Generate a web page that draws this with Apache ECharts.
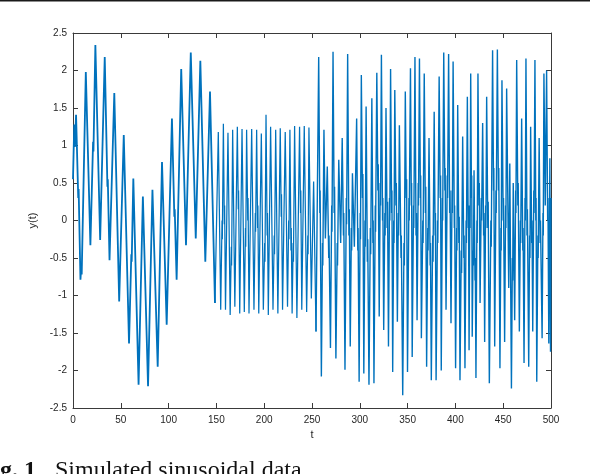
<!DOCTYPE html>
<html>
<head>
<meta charset="utf-8">
<script src="https://cdn.jsdelivr.net/npm/echarts@6/dist/echarts.min.js"></script>
<style>
html,body{margin:0;padding:0;background:#fff;}
#chart{width:590px;height:474px;}
</style>
</head>
<body>
<div id="chart"></div>
<script>
// ---- data: [t, y(t)] turning points of the trace ----
// segment 1 (t 0-150): slow wave carrying a ~10-unit oscillation
const seg1Pts = [[0,0.55],[1.3,1.28],[2.0,0.98],[3.2,1.41],[5.5,0.30],[5.9,0.42],[7.8,-0.79],[8.6,-0.62],[9.1,-0.72],[13.4,1.98],[18.2,-0.33],[21.0,1.05],[21.4,0.92],[23.4,2.34],[28.4,-0.26],[33.2,2.18],[36.0,0.45],[36.4,0.55],[38.2,-0.53],[43.2,1.70],[48.3,-1.08],[53.1,1.14],[58.6,-1.64],[61.0,-0.45],[61.4,-0.55],[63.1,0.56],[68.6,-2.19],[73.1,0.32],[78.5,-2.21],[83.1,0.41],[88.6,-1.95],[93.1,0.78],[98.0,-1.39],[103.5,1.36],[106.0,0.05],[106.4,0.15],[108.4,-0.79],[113.2,2.02],[118.2,-0.33],[123.2,2.24],[128.4,-0.24],[133.2,2.13],[138.4,-0.55],[143.3,1.72],[148.5,-1.10]];

// segment 2 (t 150-255): steady ~5-unit oscillation
const seg2Pts = [[152.0,1.18],[154.5,-1.19],[155.9,0.00],[156.2,-0.25],[157.3,1.29],[158.3,-0.05],[158.6,0.20],[159.5,-1.19],[162.1,1.17],[164.4,-1.26],[165.6,-0.35],[165.9,-0.60],[167.0,1.21],[169.3,-1.15],[171.9,1.25],[172.9,0.15],[173.2,0.40],[174.4,-1.24],[176.8,1.22],[179.2,-1.22],[180.4,-0.10],[180.7,-0.35],[181.6,1.21],[182.8,0.00],[183.1,0.30],[184.1,-1.24],[186.9,1.22],[189.3,-1.19],[190.7,0.10],[191.0,-0.15],[192.1,1.21],[193.1,-0.10],[193.4,0.20],[194.3,-1.24],[197.0,1.16],[199.1,-1.19],[200.5,-0.30],[200.8,-0.55],[201.9,1.41],[203.1,-0.20],[203.4,0.10],[204.3,-1.26],[206.7,1.25],[209.2,-1.19],[210.5,-0.20],[210.8,-0.45],[212.0,1.21],[214.3,-1.24],[216.8,1.23],[217.8,0.05],[218.1,0.35],[219.2,-1.19],[222.0,1.18],[224.4,-1.15],[225.6,0.00],[225.9,-0.25],[226.9,1.21],[228.0,-0.40],[228.3,-0.10],[229.2,-1.24],[230.3,-0.30],[230.6,-0.55],[231.8,1.26],[234.2,-1.30],[237.0,1.25],[238.0,0.10],[238.3,0.40],[239.3,-1.19],[241.9,1.26],[244.4,-1.22],[245.6,-0.20],[245.9,-0.45],[246.8,1.24],[249.3,-1.04],[251.7,0.52],[254.2,-1.48]];

// segment 3 (t 255-500): mixed oscillations with beating
const seg3Pts = [[257.0,2.18],[258.2,0.10],[258.5,0.40],[259.8,-2.08],[261.0,-0.30],[261.3,-0.60],[262.5,1.21],[264.0,-0.24],[266.0,0.72],[267.5,-0.50],[267.8,-0.20],[269.3,-1.70],[270.6,0.20],[270.9,-0.15],[272.0,2.25],[273.2,0.10],[273.6,0.45],[275.0,-1.84],[276.4,-0.30],[276.7,-0.60],[278.0,0.81],[280.0,-0.30],[281.6,1.10],[282.9,-0.20],[283.2,0.10],[284.5,-1.99],[285.9,0.30],[286.2,-0.05],[287.3,2.22],[288.6,-0.20],[289.0,0.15],[290.0,-1.68],[291.2,-0.10],[291.5,-0.40],[292.3,0.63],[294.3,-0.35],[296.7,1.36],[297.9,-0.40],[298.2,-0.10],[299.3,-2.15],[300.4,0.10],[300.7,-0.25],[301.6,1.94],[302.8,0.30],[303.2,0.62],[304.2,-2.04],[305.4,0.00],[305.7,-0.35],[306.6,1.52],[307.9,-0.55],[308.3,-0.25],[309.6,-2.19],[311.0,-0.10],[311.4,-0.45],[312.6,1.63],[313.7,-0.30],[314.0,0.00],[314.8,-2.17],[316.2,0.20],[316.5,-0.15],[317.8,1.97],[318.9,0.40],[319.3,0.75],[320.3,-1.28],[321.4,0.50],[321.7,0.20],[322.6,2.21],[323.8,0.00],[324.1,0.30],[325.0,-1.46],[326.2,0.10],[326.5,-0.20],[327.4,1.50],[328.6,-0.10],[329.0,0.25],[330.0,-1.68],[331.1,0.30],[331.4,0.00],[332.2,2.02],[333.3,0.10],[333.6,0.40],[334.4,-2.02],[335.5,0.00],[335.8,-0.30],[336.6,1.74],[337.8,0.20],[338.2,0.50],[339.3,-1.35],[340.3,0.10],[340.6,-0.20],[341.4,1.27],[343.1,-0.50],[343.4,-0.20],[344.9,-2.33],[346.2,-0.30],[346.6,-0.60],[347.6,1.72],[348.6,0.30],[349.0,0.55],[349.9,-2.02],[351.4,0.30],[351.7,0.00],[353.0,2.03],[353.9,0.20],[354.2,0.50],[354.8,-1.82],[356.2,0.20],[356.5,-0.10],[357.7,2.18],[358.8,-0.20],[359.2,0.10],[359.9,-1.33],[361.1,0.50],[361.4,0.20],[362.4,2.16],[363.4,0.30],[363.7,0.60],[364.4,-1.57],[365.9,0.00],[366.2,-0.30],[367.4,1.96],[368.6,0.10],[369.0,0.45],[369.9,-1.95],[371.1,-0.10],[371.4,-0.40],[372.4,1.10],[373.6,-0.60],[373.9,-0.30],[374.8,-2.13],[376.2,-0.20],[376.6,-0.55],[377.8,1.45],[378.8,-0.20],[379.1,0.10],[379.8,-2.13],[381.3,0.00],[381.6,-0.30],[383.0,1.92],[384.1,0.30],[384.5,0.60],[385.2,-2.00],[386.4,0.30],[386.7,0.00],[387.8,2.24],[389.0,0.40],[389.3,0.70],[390.2,-1.19],[391.5,0.60],[391.8,0.30],[392.9,2.22],[394.0,0.10],[394.4,0.40],[395.4,-1.37],[396.5,0.40],[396.8,0.10],[397.6,2.12],[398.9,-0.10],[399.2,0.20],[400.2,-1.97],[401.3,-0.10],[401.6,-0.40],[402.4,1.54],[403.6,-0.30],[404.0,0.05],[404.8,-2.13],[406.1,-0.40],[406.5,-0.70],[407.6,1.12],[408.8,-0.50],[409.1,-0.20],[410.0,-1.97],[411.2,0.00],[411.5,-0.30],[412.5,1.65],[413.4,-0.10],[413.7,0.20],[414.3,-1.73],[415.1,0.20],[415.4,-0.10],[416.0,1.96],[416.8,0.30],[417.1,0.60],[417.6,-1.55],[418.5,-0.40],[418.8,-0.60],[419.5,0.67],[420.5,-0.80],[420.8,-0.50],[421.5,-2.10],[422.5,0.00],[422.8,-0.30],[423.6,1.96],[424.6,0.20],[425.0,0.50],[425.8,-1.10],[427.1,0.30],[427.4,0.00],[428.5,1.30],[429.5,-0.20],[429.8,0.10],[430.6,-1.62],[431.6,0.20],[431.9,-0.10],[432.7,1.65],[433.9,-0.10],[434.3,0.25],[435.5,-2.17],[437.1,0.00],[437.5,-0.35],[438.9,2.27],[439.9,0.40],[440.2,0.70],[441.1,-1.68],[442.4,0.40],[442.7,0.10],[443.9,2.28],[445.0,0.40],[445.4,0.70],[446.6,-1.97],[447.6,-0.10],[447.9,-0.40],[448.7,1.87],[450.0,0.00],[450.3,0.30],[451.5,-1.62],[452.5,0.20],[452.8,-0.10],[453.6,1.76],[455.8,-0.90],[456.9,0.76],[458.6,-2.24],[459.6,-0.50],[459.9,-0.80],[460.5,0.50],[462.0,-1.33],[463.0,0.40],[463.3,0.10],[464.1,2.14],[465.3,0.20],[465.7,0.50],[466.9,-1.48],[468.0,0.00],[468.3,-0.30],[469.3,1.36],[470.5,-0.40],[470.8,-0.10],[471.8,-1.90],[472.8,0.30],[473.1,0.00],[473.8,2.16],[474.9,-0.20],[475.3,0.15],[476.7,-1.95],[477.6,-0.20],[478.0,-0.50],[478.7,1.25],[479.8,-0.30],[480.1,0.00],[480.9,-1.48],[482.0,0.40],[482.3,0.10],[483.2,2.14],[484.1,0.00],[484.4,0.30],[485.1,-2.15],[486.3,-0.20],[486.6,-0.50],[487.6,1.10],[488.6,-0.30],[489.0,0.00],[490.7,-1.57],[491.6,0.10],[491.9,-0.20],[492.6,1.96],[494.0,0.20],[495.4,2.00],[496.5,0.00],[496.8,0.30],[497.7,-1.64],[498.8,0.83],[499.5,-1.75],[500.0,0.30]];

const xTicks = [0, 500, 50];      // min, max, step
const yTicks = [-2.5, 2.5, 0.5];  // min, max, step
const xName = 't';
const yName = 'y(t)';
const captionBold = 'Fig. 1';
const captionText = 'Simulated sinusoidal data';

// ---- series data (each segment joined to the previous one's last point) ----
const s1 = seg1Pts;
const s2 = [seg1Pts[seg1Pts.length - 1]].concat(seg2Pts);
const s3 = [seg2Pts[seg2Pts.length - 1]].concat(seg3Pts);

const axCol = '#262626';
const font = 'Liberation Sans, Arial, Helvetica, sans-serif';
const lineCol = '#3a3a3a';
const blue = '#0072BD';

function xAx(pos, labels) {
  return {
    type: 'value', position: pos, min: xTicks[0], max: xTicks[1], interval: xTicks[2],
    axisLine: { show: true, onZero: false, lineStyle: { color: lineCol, width: 1 } },
    axisTick: { show: true, inside: true, length: 5, lineStyle: { color: lineCol, width: 1 } },
    axisLabel: { show: labels, color: axCol, fontSize: 10, fontFamily: font, margin: 7, showMinLabel: true, showMaxLabel: true },
    splitLine: { show: false },
    name: labels ? xName : '', nameLocation: 'middle', nameGap: 14,
    nameTextStyle: { color: axCol, fontSize: 11, fontFamily: font }
  };
}
function yAx(pos, labels) {
  return {
    type: 'value', position: pos, min: yTicks[0], max: yTicks[1], interval: yTicks[2],
    axisLine: { show: true, onZero: false, lineStyle: { color: lineCol, width: 1 } },
    axisTick: { show: true, inside: true, length: 5, lineStyle: { color: lineCol, width: 1 } },
    axisLabel: { show: labels, color: axCol, fontSize: 10, fontFamily: font, margin: 6, showMinLabel: true, showMaxLabel: true },
    splitLine: { show: false },
    name: labels ? yName : '', nameLocation: 'middle', nameGap: 16, nameRotate: 90,
    nameTextStyle: { color: axCol, fontSize: 11, fontFamily: font }
  };
}
function ser(d, w) {
  return {
    type: 'line', xAxisIndex: 0, yAxisIndex: 0, data: d,
    showSymbol: false, symbol: 'none', sampling: null,
    lineStyle: { color: blue, width: w }, silent: true
  };
}

const chart = echarts.init(document.getElementById('chart'), null, { renderer: 'canvas' });
chart.setOption({
  animation: false,
  backgroundColor: '#ffffff',
  grid: { left: 73, right: 39, top: 33, bottom: 66, containLabel: false },
  xAxis: [xAx('bottom', true), xAx('top', false)],
  yAxis: [yAx('left', true), yAx('right', false)],
  series: [ser(s1, 1.8), ser(s2, 1.25), ser(s3, 1.4)],
  graphic: [
    { type: 'rect', left: 0, top: 0, shape: { x: 0, y: 0, width: 590, height: 1.6 }, style: { fill: '#1a1a1a' }, silent: true },
    { type: 'text', x: 36, y: 471, style: { text: captionBold, fontFamily: 'Liberation Serif, Times New Roman, serif', fontWeight: 'bold', fontSize: 24, fill: '#111', align: 'right', verticalAlign: 'middle' } },
    { type: 'text', x: 55, y: 471, style: { text: captionText, fontFamily: 'Liberation Serif, Times New Roman, serif', fontSize: 24, fill: '#111', align: 'left', verticalAlign: 'middle' } }
  ]
});
</script>
</body>
</html>
